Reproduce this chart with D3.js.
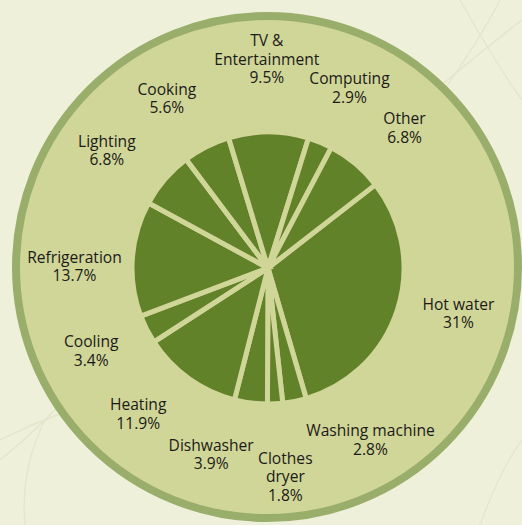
<!DOCTYPE html>
<html>
<head>
<meta charset="utf-8">
<script src="https://cdn.jsdelivr.net/npm/d3@7"></script>
<style>
  html, body { margin: 0; padding: 0; background: #eef0da; }
  svg { display: block; }
  text { font-family: "Open Sans", "Noto Sans", sans-serif; }
</style>
</head>
<body>
<script>
// ---- Data ----
const categories = ["Hot water", "Washing machine", "Clothes dryer", "Dishwasher", "Heating",
  "Cooling", "Refrigeration", "Lighting", "Cooking", "TV & Entertainment", "Computing", "Other"];
const values = [31, 2.8, 1.8, 3.9, 11.9, 3.4, 13.7, 6.8, 5.6, 9.5, 2.9, 6.8];
const valueLabels = ["31%", "2.8%", "1.8%", "3.9%", "11.9%", "3.4%", "13.7%", "6.8%", "5.6%", "9.5%", "2.9%", "6.8%"];
const nameLines = [["Hot water"], ["Washing machine"], ["Clothes", "dryer"], ["Dishwasher"], ["Heating"],
  ["Cooling"], ["Refrigeration"], ["Lighting"], ["Cooking"], ["TV &", "Entertainment"], ["Computing"], ["Other"]];

// ---- Layout (not data) ----
const W = 522, H = 525;
const cx = 268, cy = 268;
const pieR = 136;
const labelR = 197;
const labelNudge = [[3, -15], [64, -21], [7, 12], [-32, -9], [-15, -14], [-1, -6],
  [3, 12], [-12, 11], [-12, 6], [-2, -12], [6, 2], [10, 11]];
const startDeg = 52.2;

const svg = d3.select("body").append("svg").attr("width", W).attr("height", H);

svg.append("rect").attr("width", W).attr("height", H).attr("fill", "#eef0da");

// faint decorative curves in the background
const deco = svg.append("g").attr("fill", "none").attr("stroke", "#e3e6c9").attr("stroke-width", 1.3);
deco.append("path").attr("d", "M400,120 Q470,60 522,20");
deco.append("path").attr("d", "M430,110 Q480,40 500,0");
deco.append("path").attr("d", "M460,0 Q500,70 522,100");
deco.append("path").attr("d", "M0,440 Q60,410 120,395");
deco.append("path").attr("d", "M0,460 Q50,420 90,370");
deco.append("path").attr("d", "M25,525 Q20,470 45,420");
deco.append("path").attr("d", "M480,525 Q500,470 522,440");

// big background disc
svg.append("circle").attr("cx", 267).attr("cy", 267).attr("r", 251)
  .attr("fill", "#d0d598").attr("stroke", "#9aae6c").attr("stroke-width", 8);

const start = startDeg * Math.PI / 180;
const pie = d3.pie().sort(null).value(d => d).startAngle(start).endAngle(start + 2 * Math.PI);
const arcs = pie(values);
const arc = d3.arc().innerRadius(0).outerRadius(pieR);

const g = svg.append("g").attr("transform", `translate(${cx},${cy})`);
g.selectAll("path.slice").data(arcs).join("path")
  .attr("class", "slice")
  .attr("d", arc)
  .attr("fill", "#62822a")
  .attr("stroke", "#d0d598")
  .attr("stroke-width", 5)
  .attr("stroke-linejoin", "miter");

const labelArc = d3.arc().innerRadius(labelR).outerRadius(labelR);
const fs = 15.6, lh = 18.5;
arcs.forEach((a, i) => {
  const [bx, by] = labelArc.centroid(a);
  const x = bx + labelNudge[i][0];
  const y = by + labelNudge[i][1];
  const lines = nameLines[i].concat([valueLabels[i]]);
  const n = lines.length;
  const t = g.append("text")
    .attr("text-anchor", "middle")
    .attr("font-size", fs)
    .attr("fill", "#1b1b17");
  lines.forEach((ln, j) => {
    t.append("tspan")
      .attr("x", x)
      .attr("y", y - (n - 1) * lh / 2 + j * lh + 5.5)
      .text(ln);
  });
});
</script>
</body>
</html>
